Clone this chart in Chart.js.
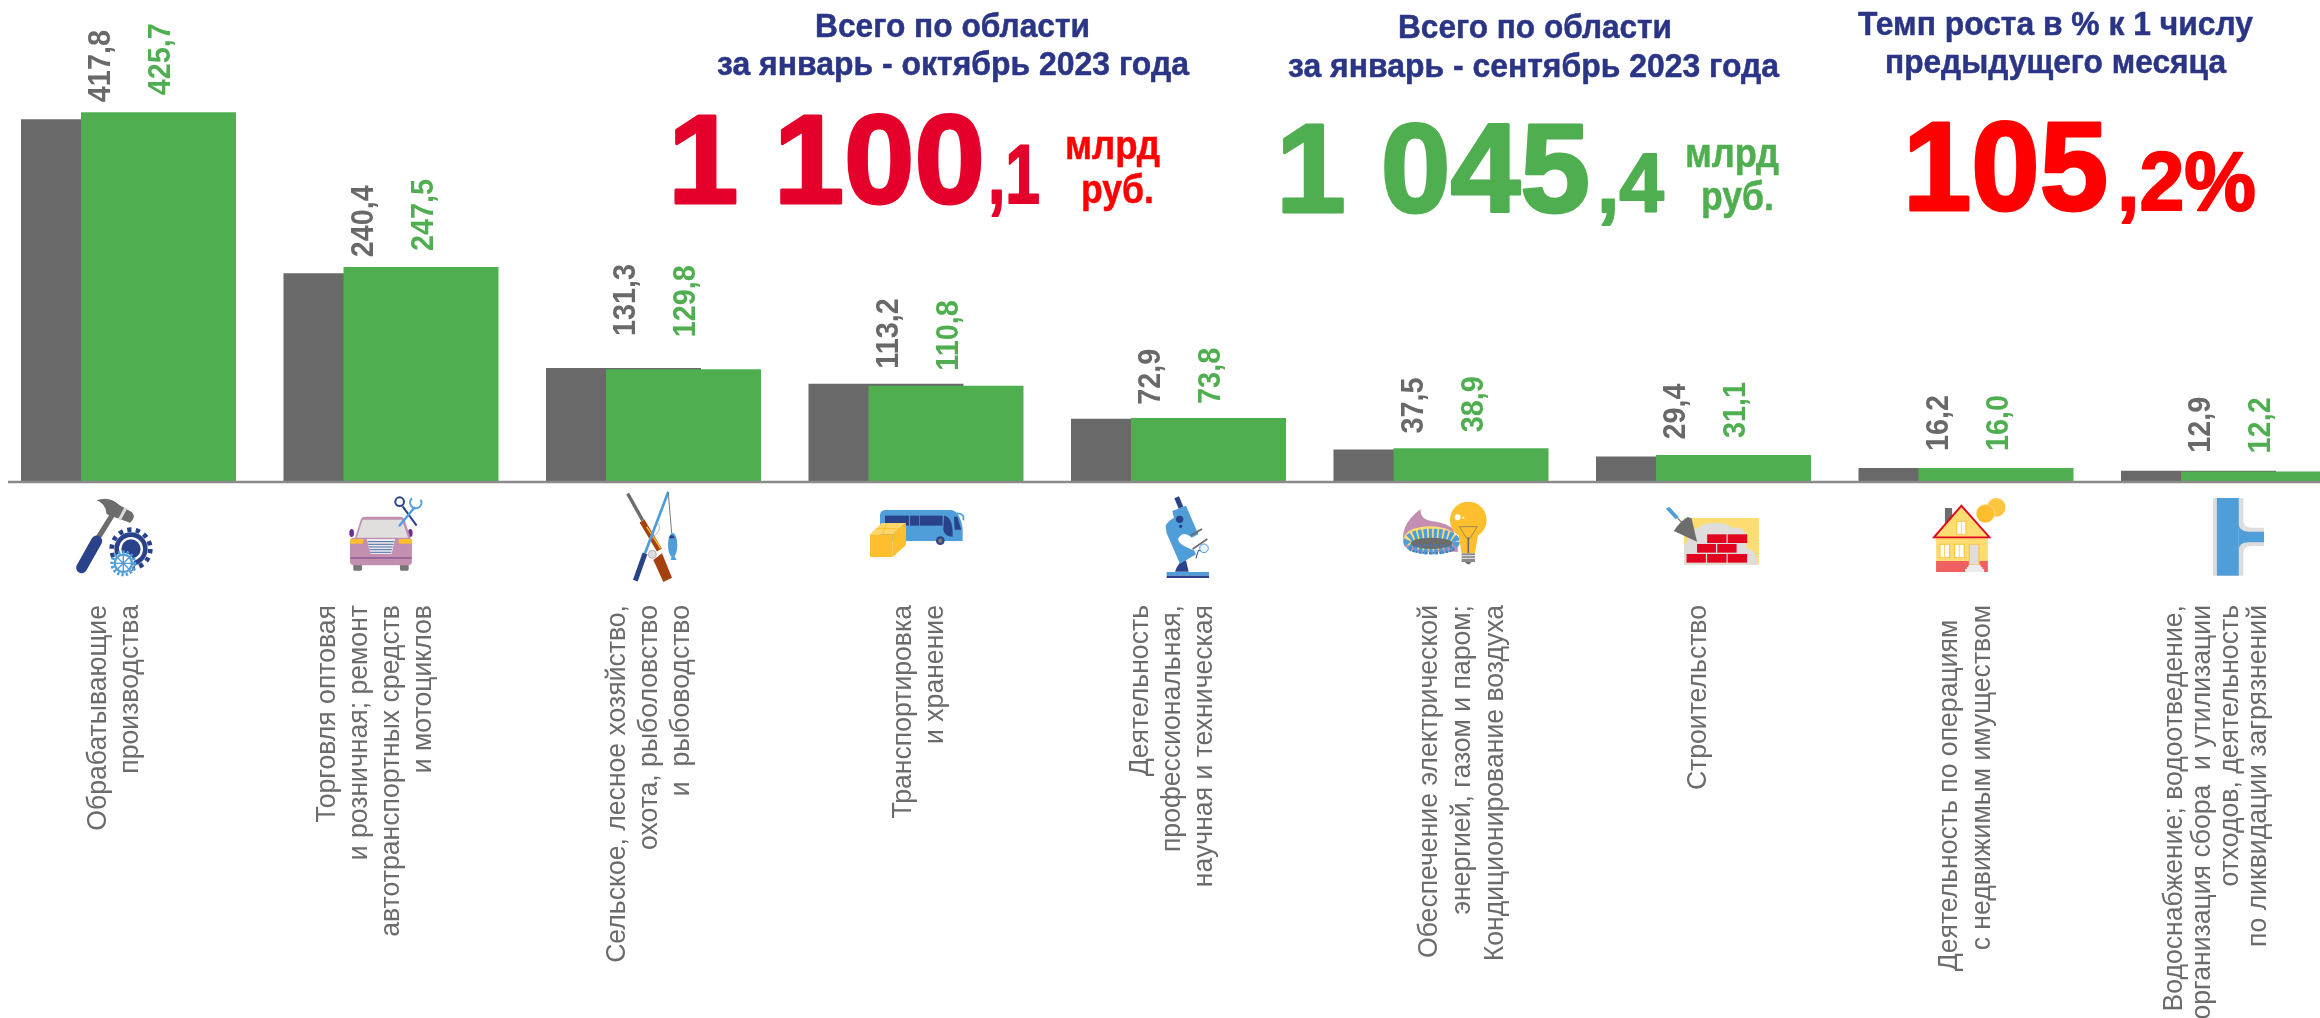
<!DOCTYPE html>
<html lang="ru">
<head>
<meta charset="utf-8">
<title>Всего по области</title>
<style>
    html, body { margin: 0; padding: 0; background: #fff; overflow: hidden; width: 2320px; height: 1018px; }
    #chart { position: absolute; left: -3px; top: 0; }
    #icons { position: absolute; left: 0; top: 0; pointer-events: none; }
</style>
<script src="https://cdn.jsdelivr.net/npm/chart.js@4"></script>
</head>
<body>
<canvas id="chart" width="2363" height="1018"></canvas>

<svg id="icons" width="2320" height="1018" viewBox="0 0 2320 1018">
    <!-- hammer and gears -->
    <g transform="translate(50 485) scale(0.3333)">
        <line x1="190" y1="85" x2="128" y2="185" stroke="#6d6d6d" stroke-width="16"/>
        <line x1="140" y1="168" x2="95" y2="248" stroke="#2a4289" stroke-width="33" stroke-linecap="round"/>
        <path d="M140 46 Q178 32 208 60 L246 82 Q260 98 240 113 L170 88 Q168 56 140 46Z" fill="#6d6d6d"/>
        <line x1="228" y1="68" x2="208" y2="104" stroke="#dddddd" stroke-width="9"/>
        <circle cx="243" cy="192" r="50" fill="#2a4289"/>
        <circle cx="243" cy="192" r="58" fill="none" stroke="#2a4289" stroke-width="14" stroke-dasharray="13 13"/>
        <circle cx="243" cy="192" r="36" fill="#fff"/>
        <circle cx="243" cy="192" r="29" fill="#2a4289"/>
        <circle cx="220" cy="235" r="32" fill="#fff"/>
        <circle cx="220" cy="235" r="34" fill="none" stroke="#4f9ed9" stroke-width="10" stroke-dasharray="7 6"/>
        <circle cx="220" cy="235" r="26" fill="none" stroke="#4f9ed9" stroke-width="7"/>
        <path d="M196 235H244M220 211V259M203 218L237 252M237 218L203 252" stroke="#4f9ed9" stroke-width="4"/>
    </g>
    <!-- car and tools -->
    <g transform="translate(50 485) scale(0.3333)">
        <rect x="910" y="236" width="26" height="21" rx="4" fill="#777"/>
        <rect x="1050" y="236" width="26" height="21" rx="4" fill="#777"/>
        <ellipse cx="905" cy="144" rx="7" ry="12" fill="#6a2f8f"/>
        <ellipse cx="1081" cy="144" rx="7" ry="12" fill="#6a2f8f"/>
        <path d="M915 160L933 102Q936 95 945 95L1050 95Q1060 95 1064 104L1082 160Z" fill="#c38fb0"/>
        <path d="M920 160L938 104L1056 104L1075 160Z" fill="#e0dfdd"/>
        <rect x="900" y="158" width="186" height="83" rx="12" fill="#c38fb0"/>
        <path d="M950 162H1035L1025 207H962Z" fill="#e8e8ee"/>
        <path d="M953 170H1032M955 178H1030M957 186H1028M959 194H1026M961 202H1024" stroke="#4f6ea3" stroke-width="3"/>
        <rect x="900" y="162" width="40" height="14" rx="4" fill="#fdbf2d"/>
        <rect x="1046" y="162" width="40" height="14" rx="4" fill="#fdbf2d"/>
        <line x1="902" y1="219" x2="1085" y2="219" stroke="#8b5a94" stroke-width="4"/>
        <line x1="1058" y1="64" x2="1100" y2="122" stroke="#2a4289" stroke-width="6"/>
        <circle cx="1049" cy="50" r="13" fill="none" stroke="#2a4289" stroke-width="6"/>
        <line x1="1047" y1="124" x2="1095" y2="66" stroke="#4f9ed9" stroke-width="7"/>
        <path d="M1086 40A17 17 0 1 0 1112 44" fill="none" stroke="#4f9ed9" stroke-width="6"/>
    </g>
    <!-- rifle and fishing rod -->
    <g transform="translate(600 485) scale(0.3333)">
        <line x1="83" y1="26" x2="128" y2="106" stroke="#6d6d6d" stroke-width="10"/>
        <line x1="126" y1="108" x2="178" y2="195" stroke="#a5400f" stroke-width="17"/>
        <line x1="140" y1="125" x2="182" y2="190" stroke="#fdbf2d" stroke-width="4"/>
        <path d="M160 225L186 205L216 278L190 291Z" fill="#a5400f"/>
        <line x1="205" y1="20" x2="135" y2="205" stroke="#4f9ed9" stroke-width="8"/>
        <line x1="135" y1="205" x2="106" y2="287" stroke="#2a4289" stroke-width="15"/>
        <line x1="205" y1="24" x2="215" y2="145" stroke="#777" stroke-width="3"/>
        <path d="M175 115Q190 135 150 165" fill="none" stroke="#999" stroke-width="2"/>
        <circle cx="157" cy="208" r="12" fill="#ddd" stroke="#999" stroke-width="2"/>
        <ellipse cx="218" cy="180" rx="14" ry="36" fill="#4f9ed9"/>
        <path d="M206 160Q215 140 225 160Z" fill="#2a4289"/>
        <path d="M218 205L212 225H230Z" fill="#4f9ed9"/>
    </g>
    <!-- bus and box -->
    <g transform="translate(600 485) scale(0.3333)">
        <path d="M840 92Q840 75 857 75L1055 75Q1080 80 1088 130L1088 168L840 168Z" fill="#4f9ed9"/>
        <rect x="855" y="92" width="72" height="30" fill="#2a4289"/>
        <rect x="930" y="92" width="28" height="30" fill="#2a4289"/>
        <rect x="960" y="92" width="68" height="30" fill="#2a4289"/>
        <path d="M1032 92Q1060 95 1058 155Q1035 155 1030 135Z" fill="#2a4289"/>
        <path d="M1062 95L1072 95L1084 134H1064Z" fill="#2a4289"/>
        <path d="M1070 85Q1095 85 1090 106" fill="none" stroke="#4f9ed9" stroke-width="5"/>
        <circle cx="1021" cy="167" r="13" fill="#2a4289"/>
        <circle cx="1021" cy="167" r="7" fill="#777"/>
        <path d="M810 148L845 114H918L878 148Z" fill="#fdd76a"/>
        <path d="M878 148L918 114V180L878 216Z" fill="#fdbf2d"/>
        <rect x="810" y="148" width="68" height="68" fill="#fdbf2d"/>
        <path d="M828 131H898M860 114L848 148" stroke="#fdbf2d" stroke-width="3"/>
    </g>
    <!-- microscope -->
    <g transform="translate(1130 485) scale(0.3333)">
        <rect x="110" y="261" width="127" height="11" fill="#4f9ed9"/>
        <rect x="110" y="272" width="127" height="7" fill="#2a4289"/>
        <path d="M135 260Q148 224 168 226L176 260Z" fill="#2a4289"/>
        <line x1="140" y1="37" x2="153" y2="68" stroke="#2a4289" stroke-width="15"/>
        <path d="M107 125Q108 112 132 98L127 78L168 62L205 148L185 158Q160 135 145 160Q140 178 192 196L198 208L150 236L110 145Z" fill="#4f9ed9"/>
        <circle cx="149" cy="103" r="11" fill="#2a4289"/>
        <circle cx="152" cy="124" r="5" fill="#2a4289"/>
        <line x1="183" y1="151" x2="216" y2="132" stroke="#6d6d6d" stroke-width="6"/>
        <line x1="188" y1="192" x2="232" y2="162" stroke="#6d6d6d" stroke-width="5"/>
        <path d="M198 220L205 196L222 200" fill="none" stroke="#2a4289" stroke-width="3"/>
        <circle cx="222" cy="190" r="13" fill="#e8f1f9" stroke="#4f9ed9" stroke-width="3"/>
    </g>
    <!-- gas burner and light bulb -->
    <g transform="translate(1130 485) scale(0.3333)">
        <path d="M825 185Q802 125 872 72Q868 108 920 110Q950 116 970 132L985 200L850 200Z" fill="#c38fb0"/>
        <ellipse cx="900" cy="160" rx="78" ry="36" fill="#fddc72"/>
        <ellipse cx="905" cy="170" rx="70" ry="24" fill="none" stroke="#4f9ed9" stroke-width="30" stroke-dasharray="10 5"/>
        <ellipse cx="905" cy="175" rx="62" ry="17" fill="#6d6d6d"/>
        <ellipse cx="905" cy="192" rx="66" ry="12" fill="none" stroke="#4f78b0" stroke-width="6" stroke-dasharray="6 4"/>
        <path d="M985 145L995 205H1035L1045 145Z" fill="#fdbf2d"/>
        <circle cx="1015" cy="105" r="55" fill="#fdbf2d"/>
        <circle cx="983" cy="97" r="9" fill="#fff"/>
        <circle cx="1000" cy="98" r="3" fill="#fff"/>
        <path d="M988 125H1042L1020 160H1010Z" fill="none" stroke="#6d6d6d" stroke-width="2"/>
        <line x1="1015" y1="157" x2="1015" y2="205" stroke="#6d6d6d" stroke-width="5"/>
        <rect x="995" y="205" width="40" height="26" fill="#8a8a8a"/>
        <path d="M995 212H1035M995 220H1035" stroke="#e5e5e5" stroke-width="3"/>
        <path d="M1005 231H1025L1018 238H1012Z" fill="#6d6d6d"/>
    </g>
    <!-- bricks and trowel -->
    <g transform="translate(1660 485) scale(0.4209 0.3333)">
        <rect x="57" y="99" width="178" height="140" fill="#fddc72"/>
        <path d="M57 239V180L72 150Q95 110 130 114Q160 112 170 128Q205 122 205 160L205 190Q232 195 232 239Z" fill="#dedddb"/>
        <g fill="#e3051f">
            <rect x="112" y="148" width="46" height="26"/>
            <rect x="161" y="148" width="46" height="26"/>
            <rect x="88" y="177" width="45" height="26"/>
            <rect x="136" y="177" width="46" height="26"/>
            <rect x="63" y="207" width="46" height="26"/>
            <rect x="112" y="207" width="46" height="26"/>
            <rect x="161" y="207" width="46" height="26"/>
        </g>
        <path d="M88 170L33 138Q45 112 66 96L75 100Z" fill="#6d6d6d"/>
        <line x1="42" y1="100" x2="52" y2="112" stroke="#6d6d6d" stroke-width="3"/>
        <line x1="18" y1="68" x2="41" y2="100" stroke="#4f9ed9" stroke-width="10"/>
    </g>
    <!-- house and coins -->
    <g transform="translate(1660 485) scale(0.4209 0.3333)">
        <rect x="677" y="69" width="17" height="50" fill="#6d6d6d"/>
        <rect x="656" y="150" width="123" height="111" fill="#fddc72"/>
        <rect x="656" y="228" width="123" height="33" fill="#ef6060"/>
        <path d="M651 157L716 62L783 157Z" fill="#fddc72" stroke="#e3051f" stroke-width="5"/>
        <g fill="#fff" stroke="#fdc63f" stroke-width="3">
            <rect x="705" y="109" width="22" height="39"/>
            <rect x="665" y="178" width="23" height="40"/>
            <rect x="700" y="178" width="23" height="40"/>
            <rect x="735" y="178" width="23" height="62" style="fill:#dedddb"/>
        </g>
        <path d="M716 110V147M676 179V217M711 179V217" stroke="#fdc63f" stroke-width="2"/>
        <path d="M733 240H762V246H733ZM729 246H766V252H729ZM725 252H770V261H725Z" fill="#ececec"/>
        <ellipse cx="799" cy="67" rx="22" ry="28" fill="#fdc63f"/>
        <ellipse cx="773" cy="86" rx="22" ry="28" fill="#fdbf2d" stroke="#fff" stroke-width="1"/>
    </g>
    <!-- water pipe -->
    <g transform="translate(1660 485) scale(0.4209 0.3333)">
        <rect x="1314" y="39" width="72" height="233" fill="#dedddb"/>
        <path d="M1386 105Q1386 128 1405 128H1435V183H1405Q1386 183 1386 205Z" fill="#dedddb"/>
        <rect x="1323" y="39" width="52" height="233" fill="#4f9ed9"/>
        <path d="M1375 115Q1375 140 1398 140H1435V172H1398Q1375 172 1375 197Z" fill="#4f9ed9"/>
    </g>
</svg>

<script>
const categories = [
    ['Обрабатывающие', 'производства'],
    ['Торговля оптовая', 'и розничная; ремонт', 'автотранспортных средств', 'и мотоциклов'],
    ['Сельское, лесное хозяйство,', 'охота, рыболовство', 'и  рыбоводство'],
    ['Транспортировка', 'и хранение'],
    ['Деятельность', 'профессиональная,', 'научная и техническая'],
    ['Обеспечение электрической', 'энергией, газом и паром;', 'Кондиционирование воздуха'],
    ['Строительство'],
    ['Деятельность по операциям  ', 'с недвижимым имуществом'],
    ['Водоснабжение; водоотведение,', 'организация сбора  и утилизации', 'отходов, деятельность', 'по ликвидации загрязнений']
];
const september = [417.8, 240.4, 131.3, 113.2, 72.9, 37.5, 29.4, 16.2, 12.9];
const october = [425.7, 247.5, 129.8, 110.8, 73.8, 38.9, 31.1, 16.0, 12.2];

const GREY = '#696969';
const GREEN = '#4fae50';
const NAVY = '#2b3585';
const CRIMSON = '#e4002b';
const RED = '#ff0000';

// canvas sticks out on the left so the first group lands where it should
const canvasShift = 3;
const valueGaps = [17, 16, 32, 15, 14, 16, 17, 17, 18];
const labelShifts = [-14, -16, -4, 3, -6, 21, -5, 0, -12];
const labelSpacing = [32, 32, 32, 32, 32, 33, 32, 33, 28];

// text, left, right, baseline, font size (height), extra stroke, colour
const captions = [
    ['Всего по области', 815, 1090, 37, 33, 0.5, NAVY],
    ['за январь - октябрь 2023 года', 717, 1189, 75, 33, 0.5, NAVY],
    ['1 100', 668, 985, 203, 126, 3, CRIMSON],
    [',1', 988, 1040, 203, 84, 2, CRIMSON],
    ['млрд', 1065, 1160, 159, 40, 0.5, RED],
    ['руб.', 1081, 1154, 203, 40, 0.5, RED],
    ['Всего по области', 1398, 1672, 38, 33, 0.5, NAVY],
    ['за январь - сентябрь 2023 года', 1288, 1779, 77, 33, 0.5, NAVY],
    ['1 045', 1276, 1590, 212, 126, 3, GREEN],
    [',4', 1597, 1664, 212, 84, 2, GREEN],
    ['млрд', 1685, 1779, 167, 40, 0.5, GREEN],
    ['руб.', 1701, 1774, 210, 40, 0.5, GREEN],
    ['Темп роста в % к 1 числу', 1858, 2253, 35, 33, 0.5, NAVY],
    ['предыдущего месяца', 1885, 2226, 73, 33, 0.5, NAVY],
    ['105', 1903, 2108, 210, 126, 3, RED],
    [',2%', 2117, 2256, 210, 84, 2, RED]
];

function drawCaption(ctx, [text, left, right, baseline, size, extra, color]) {
    ctx.save();
    ctx.font = `bold ${size}px "Liberation Sans", Arial, sans-serif`;
    ctx.fillStyle = color;
    ctx.strokeStyle = color;
    ctx.lineWidth = extra;
    ctx.lineJoin = 'round';
    ctx.textAlign = 'left';
    ctx.textBaseline = 'alphabetic';
    const width = ctx.measureText(text).width;
    ctx.translate(left, baseline);
    ctx.scale((right - left) / width, 1);
    ctx.fillText(text, 0, 0);
    if (extra > 0) {
        ctx.strokeText(text, 0, 0);
    }
    ctx.restore();
}

// vertical text reading bottom to top, align says which end sits at y
function drawVertical(ctx, text, x, y, font, color, squeeze, align) {
    ctx.save();
    ctx.font = font;
    ctx.fillStyle = color;
    ctx.textAlign = align;
    ctx.textBaseline = 'middle';
    ctx.translate(x, y);
    ctx.rotate(-Math.PI / 2);
    ctx.scale(squeeze, 1);
    ctx.fillText(text, 0, 0);
    ctx.restore();
}

function formatValue(value) {
    return value.toFixed(1).replace('.', ',');
}

// grouped bars put the first dataset on top, here the grey has to sit under the green
const greyUnderGreen = {
    id: 'greyUnderGreen',
    beforeDatasetsDraw(chart) {
        chart.getDatasetMeta(0).controller.draw();
    },
    beforeDatasetDraw(chart, args) {
        return args.index !== 0;
    }
};

const decorations = {
    id: 'decorations',
    afterDraw(chart) {
        const { ctx, scales } = chart;
        const baseY = scales.y.getPixelForValue(0);

        ctx.save();
        ctx.translate(canvasShift, 0);

        // axis line
        ctx.strokeStyle = '#8a8a8a';
        ctx.lineWidth = 2.5;
        ctx.beginPath();
        ctx.moveTo(8, baseY);
        ctx.lineTo(2320, baseY);
        ctx.stroke();

        // value labels over the bars, +3 because the digits sit left of the em box middle
        const valueFont = 'bold 32px "Liberation Sans", Arial, sans-serif';
        [[september, GREY, 0], [october, GREEN, 1]].forEach(([values, color, index]) => {
            const bars = chart.getDatasetMeta(index).data;
            values.forEach((value, i) => {
                const x = bars[i].x - canvasShift + 3;
                const y = scales.y.getPixelForValue(value) - valueGaps[i];
                drawVertical(ctx, formatValue(value), x, y, valueFont, color, 0.9, 'left');
            });
        });

        // category names under the icons
        const labelFont = '28px "Liberation Sans", Arial, sans-serif';
        categories.forEach((lines, i) => {
            const center = scales.x.getPixelForTick(i) - canvasShift + labelShifts[i];
            const first = center - (lines.length - 1) * labelSpacing[i] / 2;
            lines.forEach((line, n) => {
                drawVertical(ctx, line, first + n * labelSpacing[i], 605, labelFont, '#6b6b6b', 0.95, 'right');
            });
        });

        captions.forEach(caption => drawCaption(ctx, caption));
        ctx.restore();
    }
};

document.addEventListener('DOMContentLoaded', () => {
    new Chart(document.getElementById('chart'), {
        type: 'bar',
        data: {
            labels: categories,
            datasets: [
                { label: 'январь - сентябрь', data: september, backgroundColor: GREY },
                { label: 'январь - октябрь', data: october, backgroundColor: GREEN }
            ]
        },
        options: {
            responsive: false,
            animation: false,
            layout: { padding: { left: 0.25, right: 0.25, top: 0, bottom: 536 } },
            categoryPercentage: 0.45714,
            barPercentage: 2.5833,
            plugins: {
                legend: { display: false },
                tooltip: { enabled: false },
                title: { display: false }
            },
            scales: {
                x: { display: false },
                y: { display: false, min: 0, max: 555 }
            }
        },
        plugins: [greyUnderGreen, decorations]
    });
});
</script>
</body>
</html>
